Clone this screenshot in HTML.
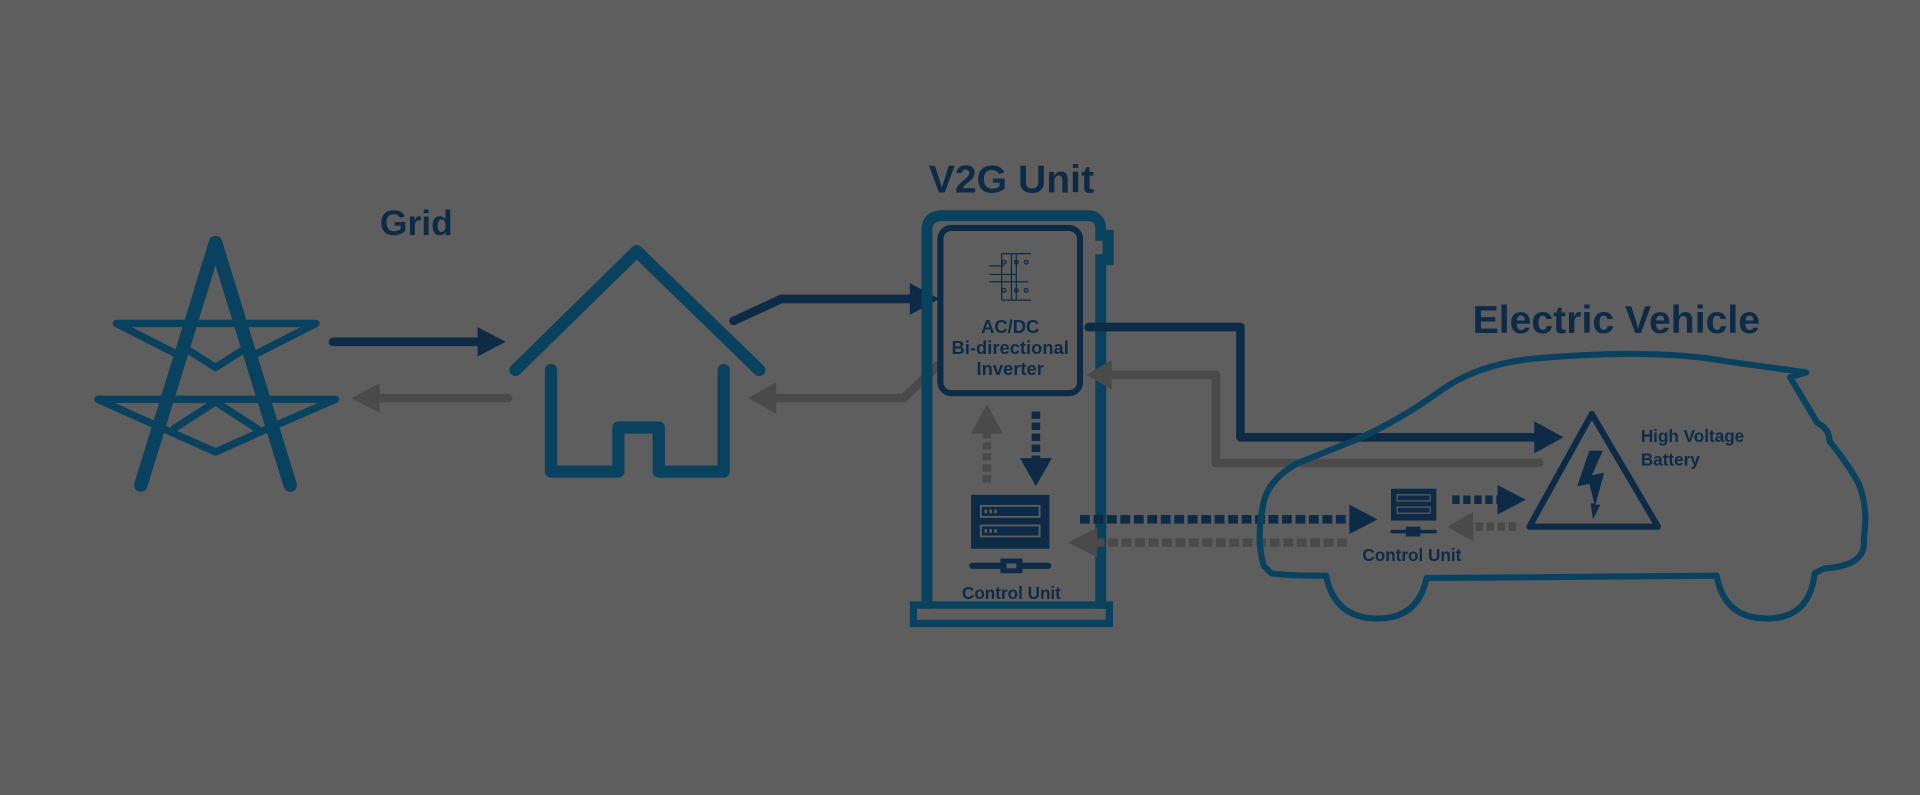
<!DOCTYPE html>
<html><head><meta charset="utf-8"><style>
html,body{margin:0;padding:0;background:#5e5e5e;width:1920px;height:795px;overflow:hidden}
svg{display:block}
text{font-family:"Liberation Sans",sans-serif;font-weight:bold;fill:#0d2b47}
</style></head><body>
<svg width="1920" height="795" viewBox="0 0 1568 649" xmlns="http://www.w3.org/2000/svg">
<rect width="1568" height="649" fill="#5e5e5e"/>
<!-- Tower -->
<g stroke="#09425f" fill="none" stroke-linejoin="round" stroke-linecap="round">
<path d="M115,396 L176,198 L237,396" stroke-width="11"/>
<path d="M95,264 L258,264 M95,264 L150,292 M258,264 L203,292 M154,286 L176,300 L198,286" stroke-width="6"/>
<path d="M80,326 L274,326 M80,326 L138,352 M274,326 L214,352 M142,350 L176,328 L210,350 M138,352 L176,369 L214,352" stroke-width="6"/>
</g>
<text x="340" y="192" font-size="29" text-anchor="middle">Grid</text>
<!-- grid arrows -->
<line x1="272" y1="279" x2="392" y2="279" stroke="#0d2b47" stroke-width="7" stroke-linecap="round"/>
<path d="M390,267 L413,279 L390,291Z" fill="#0d2b47"/>
<line x1="415" y1="325" x2="308" y2="325" stroke="#4a4a4a" stroke-width="7" stroke-linecap="round"/>
<path d="M310,313 L287,325 L310,337Z" fill="#4a4a4a"/>
<!-- House -->
<g stroke="#09425f" stroke-width="10" fill="none" stroke-linejoin="round" stroke-linecap="round">
<path d="M421,302 L520,205 L620,302"/>
<path d="M450,302 L450,385 L505,385 L505,349 L538,349 L538,385 L591,385 L591,302"/>
</g>
<!-- house -> inverter -->
<polyline points="599,262 638,244 745,244" stroke="#0d2b47" stroke-width="7" fill="none" stroke-linecap="round"/>
<path d="M743,231 L767,244 L743,257Z" fill="#0d2b47"/>
<polyline points="766,298 738,325 632,325" stroke="#4a4a4a" stroke-width="7" fill="none" stroke-linecap="round"/>
<path d="M634,312 L611,325 L634,338Z" fill="#4a4a4a"/>
<!-- V2G Unit -->
<text x="826" y="157" font-size="32" text-anchor="middle">V2G Unit</text>
<path d="M757,497 L757,188 Q757,176 770,176 L888,176 Q899,176 899,188 L899,192 L905,192 L905,212 L899,212 L899,497" stroke="#09425f" stroke-width="9" fill="none"/>
<rect x="746" y="494" width="160" height="15" fill="none" stroke="#09425f" stroke-width="6"/>
<rect x="768" y="186" width="114" height="135" rx="9" fill="none" stroke="#0d2b47" stroke-width="5"/>
<!-- circuit -->
<g stroke="#0d2b47" stroke-width="1" fill="none">
<path d="M818,207 L842,207 M818,207 L818,245 M830,207 L830,245 M818,245 L842,245 M826,207 L826,245"/>
<path d="M808,217 L820,217 M808,224 L830,224 M808,230 L840,230"/>
<circle cx="820" cy="214" r="1.5"/><circle cx="830" cy="214" r="1.5"/><circle cx="838" cy="214" r="1.5"/>
<circle cx="820" cy="237" r="1.5"/><circle cx="830" cy="237" r="1.5"/><circle cx="838" cy="237" r="1.5"/>
</g>
<text x="825" y="272" font-size="15" text-anchor="middle">AC/DC</text>
<text x="825" y="289" font-size="15" text-anchor="middle">Bi-directional</text>
<text x="825" y="306" font-size="15" text-anchor="middle">Inverter</text>
<!-- vertical arrows -->
<line x1="806" y1="394" x2="806" y2="352" stroke="#4a4a4a" stroke-width="7" stroke-dasharray="6,3"/>
<path d="M793,354 L806,330 L819,354Z" fill="#4a4a4a"/>
<line x1="846" y1="336" x2="846" y2="376" stroke="#0d2b47" stroke-width="7" stroke-dasharray="6,3"/>
<path d="M833,374 L846,397 L859,374Z" fill="#0d2b47"/>
<!-- control unit V2G -->
<rect x="793" y="404" width="64" height="44" fill="#0d2b47"/>
<rect x="801" y="413" width="48" height="9" fill="none" stroke="#5e5e5e" stroke-width="1.5"/>
<rect x="801" y="429" width="48" height="9" fill="none" stroke="#5e5e5e" stroke-width="1.5"/>
<g fill="#5e5e5e"><rect x="804" y="416" width="2" height="3"/><rect x="808" y="416" width="2" height="3"/><rect x="812" y="416" width="2" height="3"/><rect x="804" y="432" width="2" height="3"/><rect x="808" y="432" width="2" height="3"/><rect x="812" y="432" width="2" height="3"/></g>
<line x1="794" y1="462" x2="856" y2="462" stroke="#0d2b47" stroke-width="5" stroke-linecap="round"/>
<rect x="817" y="456" width="18" height="12" fill="#0d2b47"/><rect x="822" y="460" width="8" height="4" fill="#5e5e5e"/>
<text x="826" y="489" font-size="14" text-anchor="middle">Control Unit</text>
<!-- power lines to EV -->
<polyline points="889,267 1013,267 1013,357 1255,357" stroke="#0d2b47" stroke-width="7" fill="none" stroke-linecap="round" stroke-linejoin="round"/>
<path d="M1253,344 L1277,357 L1253,370Z" fill="#0d2b47"/>
<polyline points="906,306 993,306 993,378 1257,378" stroke="#4a4a4a" stroke-width="7" fill="none" stroke-linecap="round" stroke-linejoin="round"/>
<path d="M908,294 L887,306 L908,318Z" fill="#4a4a4a"/>
<!-- data arrows -->
<line x1="882" y1="424" x2="1104" y2="424" stroke="#0d2b47" stroke-width="7" stroke-dasharray="8,3"/>
<path d="M1102,412 L1125,424 L1102,436Z" fill="#0d2b47"/>
<line x1="1100" y1="443" x2="894" y2="443" stroke="#4a4a4a" stroke-width="7" stroke-dasharray="8,3"/>
<path d="M896,431 L872,443 L896,455Z" fill="#4a4a4a"/>
<!-- Car -->
<path d="M1032,462 Q1026,440 1031,415 Q1034,392 1060,378 L1105,360 Q1140,345 1175,320 Q1205,298 1250,293 Q1350,284 1410,295 L1475,304 L1462,308 L1484,345 Q1494,350 1494,360 Q1510,380 1518,395 Q1526,415 1522,440 Q1525,462 1490,464 L1482,468 Q1478,505 1443,505 Q1408,505 1402,470 L1165,472 Q1158,505 1125,505 Q1090,505 1083,470 Q1050,470 1038,468 Z" stroke="#09425f" stroke-width="5" fill="none" stroke-linejoin="round"/>
<text x="1320" y="272" font-size="32" text-anchor="middle">Electric Vehicle</text>
<!-- small control unit -->
<rect x="1136" y="399" width="37" height="26" fill="#0d2b47"/>
<rect x="1141" y="404" width="27" height="5" fill="none" stroke="#5e5e5e" stroke-width="1"/>
<rect x="1141" y="414" width="27" height="5" fill="none" stroke="#5e5e5e" stroke-width="1"/>
<line x1="1137" y1="434" x2="1172" y2="434" stroke="#0d2b47" stroke-width="3" stroke-linecap="round"/>
<rect x="1148" y="430" width="12" height="8" fill="#0d2b47"/>
<text x="1153" y="458" font-size="14" text-anchor="middle">Control Unit</text>
<line x1="1186" y1="408" x2="1226" y2="408" stroke="#0d2b47" stroke-width="7" stroke-dasharray="6,3"/>
<path d="M1223,396 L1246,408 L1223,420Z" fill="#0d2b47"/>
<line x1="1238" y1="430" x2="1200" y2="430" stroke="#4a4a4a" stroke-width="7" stroke-dasharray="6,3"/>
<path d="M1203,418 L1182,430 L1203,442Z" fill="#4a4a4a"/>
<!-- warning triangle -->
<path d="M1300,338 L1249,430 L1354,430 Z" stroke="#0d2b47" stroke-width="5" fill="none" stroke-linejoin="round"/>
<path d="M1298,368 L1309,368 L1300,388 L1310,386 L1303,412 L1307,412 L1301,424 L1299,411 L1302,411 L1298,395 L1288,397 Z" fill="#0d2b47"/>
<text x="1340" y="361" font-size="14">High Voltage</text>
<text x="1340" y="380" font-size="14">Battery</text>
</svg>
</body></html>
